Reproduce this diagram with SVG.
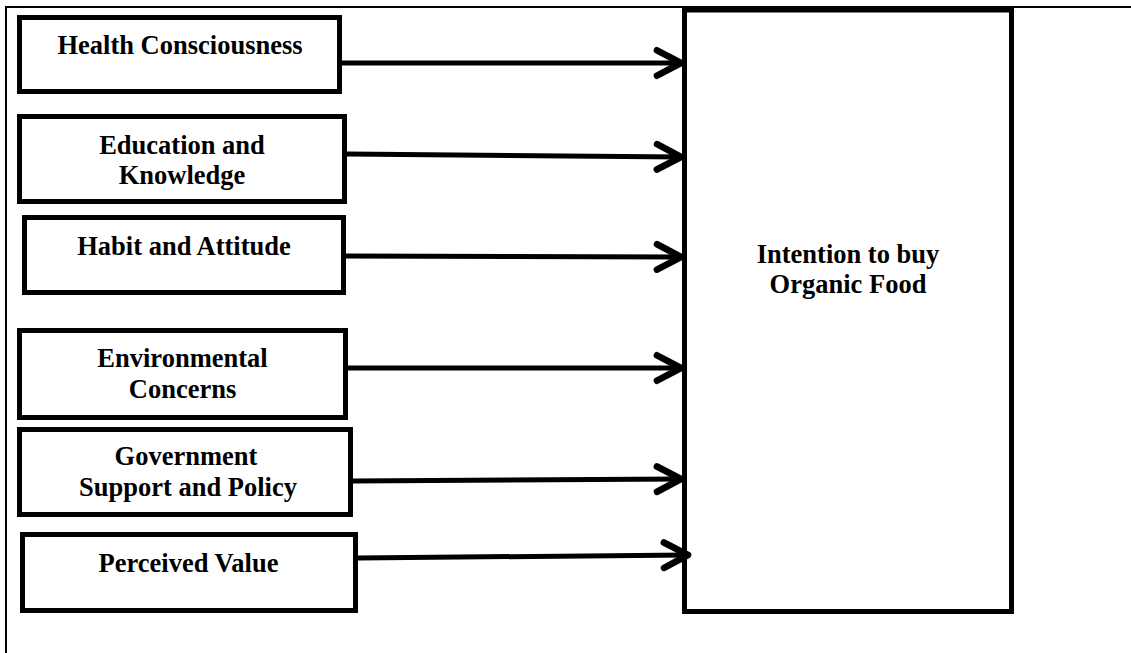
<svg xmlns="http://www.w3.org/2000/svg" width="1131" height="653" viewBox="0 0 1131 653">
  <style>
    .frame { fill: none; stroke: #000; stroke-width: 2; }
    .box { fill: #fff; stroke: #000; stroke-width: 5; }
    .lbl { font-family: "Liberation Serif", "Times New Roman", serif; font-weight: bold; font-size: 26.5px; fill: #000; text-anchor: middle; }
    .conn { fill: none; stroke: #000; stroke-width: 5; marker-end: url(#head); }
  </style>
  <defs>
    <marker id="head" markerUnits="userSpaceOnUse" markerWidth="40" markerHeight="40" viewBox="-25 -15 30 30" refX="0" refY="0" orient="auto" overflow="visible">
      <path d="M-18,-9.5 L0,0 L-18,9.5" fill="none" stroke="#000" stroke-width="5" stroke-linecap="round" stroke-linejoin="round"/>
    </marker>
  </defs>
  <rect width="1131" height="653" fill="#fff"/>

  <!-- table cell border -->
  <path class="frame" d="M6,653 L6,7 L1131,7"/>

  <!-- outcome -->
  <g id="intention">
    <rect class="box" x="684.5" y="10" width="327" height="601.5"/>
    <text class="lbl" x="848" y="262.5">Intention to buy</text>
    <text class="lbl" x="848" y="293">Organic Food</text>
  </g>

  <!-- determinants -->
  <g id="health">
    <rect class="box" x="19.5" y="17.5" width="320" height="74"/>
    <text class="lbl" x="180" y="54">Health Consciousness</text>
  </g>
  <g id="education">
    <rect class="box" x="19.5" y="116.5" width="325" height="85"/>
    <text class="lbl" x="182" y="154.3">Education and</text>
    <text class="lbl" x="182" y="184.3">Knowledge</text>
  </g>
  <g id="habit">
    <rect class="box" x="24.5" y="217.5" width="319" height="75"/>
    <text class="lbl" x="184" y="255">Habit and Attitude</text>
  </g>
  <g id="environment">
    <rect class="box" x="19.5" y="330.5" width="326" height="87"/>
    <text class="lbl" x="182.5" y="366.7">Environmental</text>
    <text class="lbl" x="182.5" y="398.3">Concerns</text>
  </g>
  <g id="government">
    <rect class="box" x="19.5" y="429.5" width="331" height="85"/>
    <text class="lbl" x="186" y="465">Government</text>
    <text class="lbl" x="188" y="495.5">Support and Policy</text>
  </g>
  <g id="value">
    <rect class="box" x="22.5" y="534.5" width="333" height="76"/>
    <text class="lbl" x="188.5" y="571.7">Perceived Value</text>
  </g>

  <!-- connectors -->
  <g id="connectors">
    <path class="conn" d="M342,63 L681,63"/>
    <path class="conn" d="M347,154 L681,157"/>
    <path class="conn" d="M346,256 L681,257"/>
    <path class="conn" d="M348,368 L681,368"/>
    <path class="conn" d="M353,481 L681,479"/>
    <path class="conn" d="M358,558 L688,555"/>
  </g>
</svg>
